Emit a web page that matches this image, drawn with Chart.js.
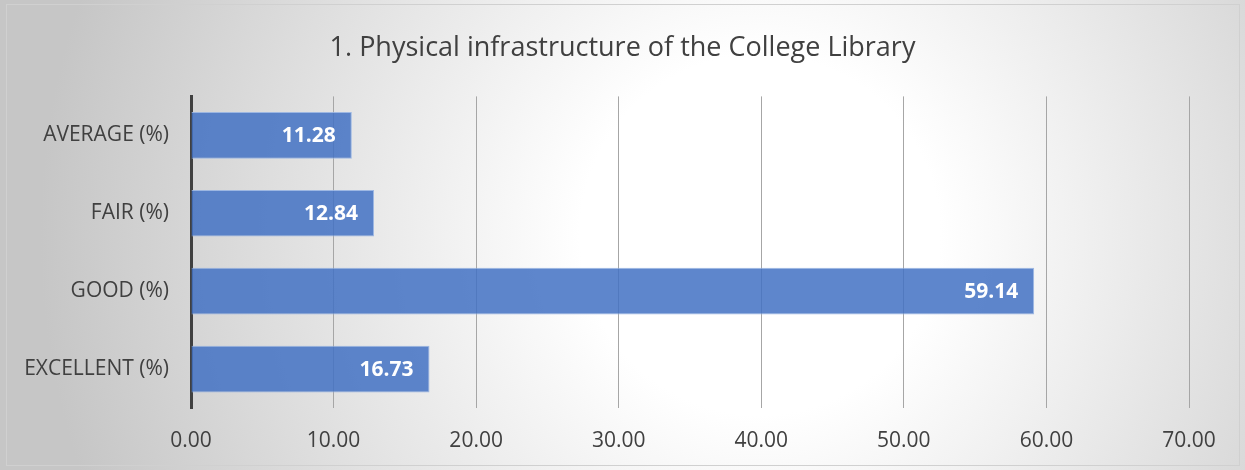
<!DOCTYPE html>
<html lang="en">
<head>
    <meta charset="UTF-8">
    <title>Physical infrastructure of the College Library</title>
    <script src="https://cdn.jsdelivr.net/npm/chart.js@4.4.0/dist/chart.umd.min.js"></script>
    <style>
        html, body { margin: 0; padding: 0; background: #fff; }
        #wrap { width: 1245px; height: 470px; }
    </style>
</head>
<body>
<div id="wrap"><canvas id="chart" width="1245" height="470"></canvas></div>
<script>
    const categories = ['AVERAGE (%)', 'FAIR (%)', 'GOOD (%)', 'EXCELLENT (%)'];
    const percentages = [11.28, 12.84, 59.14, 16.73];
    const xMin = 0;
    const xMax = 70;
    const xStep = 10;

    // radial grey background + thin frame, like the office chart area
    const background = {
        id: 'background',
        beforeDraw(chart) {
            const ctx = chart.ctx;
            const w = chart.width, h = chart.height;
            ctx.save();
            const g = ctx.createRadialGradient(760, 235, 0, 760, 235, 720);
            g.addColorStop(0, '#ffffff');
            g.addColorStop(0.25, '#ffffff');
            g.addColorStop(1, '#c6c6c6');
            ctx.fillStyle = g;
            ctx.fillRect(0, 0, w, h);
            ctx.strokeStyle = '#d0d0d0';
            ctx.lineWidth = 1;
            ctx.strokeRect(6.5, 4.5, w - 12, h - 9);
            ctx.restore();
        }
    };

    // value labels inside the end of each bar
    const valueLabels = {
        id: 'valueLabels',
        afterDatasetsDraw(chart) {
            const ctx = chart.ctx;
            ctx.save();
            ctx.font = 'bold 21px "Open Sans"';
            ctx.fillStyle = '#ffffff';
            ctx.textAlign = 'right';
            ctx.textBaseline = 'middle';
            chart.getDatasetMeta(0).data.forEach((bar, i) => {
                ctx.fillText(percentages[i].toFixed(2), bar.x - 16, bar.y + 1);
            });
            ctx.restore();
        }
    };

    const ctx = document.getElementById('chart').getContext('2d');
    new Chart(ctx, {
        type: 'bar',
        data: {
            labels: categories,
            datasets: [{
                data: percentages,
                backgroundColor: 'rgba(68, 114, 196, 0.86)',
                borderColor: 'rgba(150, 178, 226, 0.9)',
                borderWidth: 1,
                borderSkipped: 'start',
                barPercentage: 0.6,
                categoryPercentage: 1
            }]
        },
        options: {
            indexAxis: 'y',
            responsive: false,
            animation: false,
            layout: { padding: 0 },
            plugins: {
                legend: { display: false },
                tooltip: { enabled: false },
                title: {
                    display: true,
                    text: '1. Physical infrastructure of the College Library',
                    color: '#404040',
                    font: { family: 'Open Sans', size: 27, weight: 'normal' },
                    padding: { top: 32, bottom: 32 }
                }
            },
            scales: {
                x: {
                    min: xMin,
                    max: xMax,
                    ticks: {
                        stepSize: xStep,
                        color: '#404040',
                        font: { family: 'Open Sans', size: 21 },
                        padding: 20,
                        callback: v => v.toFixed(2)
                    },
                    grid: { color: '#a6a6a6', lineWidth: 1, drawTicks: false },
                    border: { display: false },
                    afterFit(scale) { scale.height = 62; }
                },
                y: {
                    ticks: {
                        color: '#404040',
                        font: { family: 'Open Sans', size: 21 },
                        padding: 22
                    },
                    grid: { display: false, drawTicks: false },
                    border: { display: true, color: '#404040', width: 3 },
                    afterFit(scale) { scale.width = 191; }
                },
                // empty right-hand spacer so the title stays centred on the canvas
                spacer: {
                    type: 'linear',
                    position: 'right',
                    ticks: { display: false },
                    grid: { display: false, drawTicks: false },
                    border: { display: false },
                    afterFit(scale) { scale.width = 56; }
                }
            }
        },
        plugins: [background, valueLabels]
    });
</script>
</body>
</html>
